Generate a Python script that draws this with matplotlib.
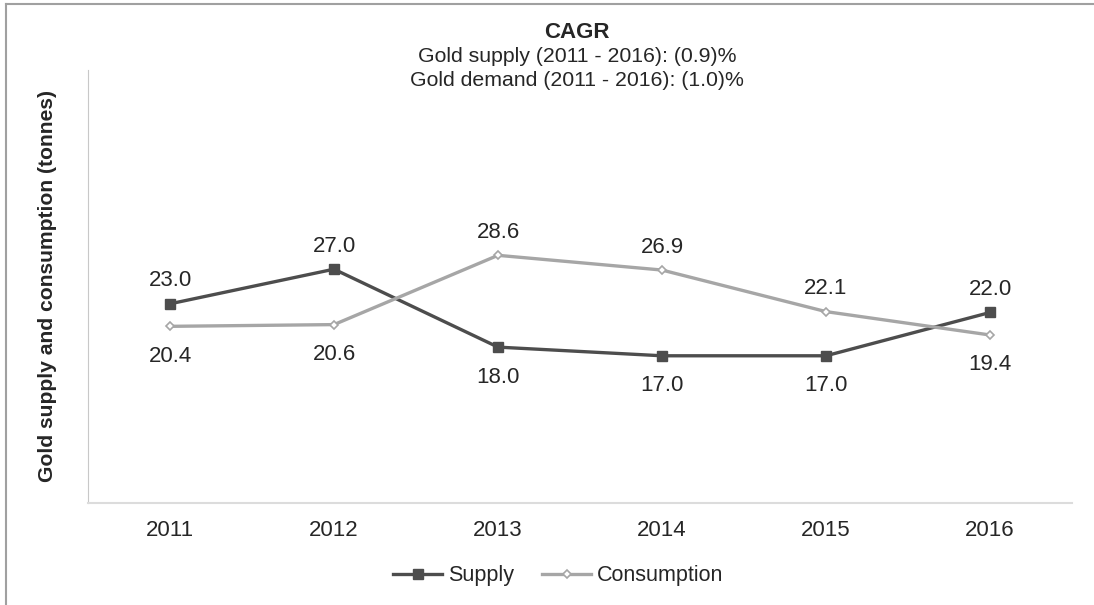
import numpy as np
import matplotlib.pyplot as plt
from matplotlib.lines import Line2D

plt.rcParams['font.family'] = ['Liberation Sans', 'DejaVu Sans']

years = ["2011", "2012", "2013", "2014", "2015", "2016"]
supply = [23.0, 27.0, 18.0, 17.0, 17.0, 22.0]
consumption = [20.4, 20.6, 28.6, 26.9, 22.1, 19.4]
# label placement: 1 = above point, -1 = below
supply_pos = [1, 1, -1, -1, -1, 1]
consumption_pos = [-1, -1, 1, 1, 1, -1]

dark = "#4d4d4d"
light = "#a6a6a6"
txt = "#262626"

fig = plt.figure(figsize=(10.94, 6.05), dpi=100)
ax = fig.add_axes([88 / 1094, 1 - 503 / 605, 984 / 1094, 433 / 605])

x = np.arange(len(years))
ax.plot(x, supply, color=dark, lw=2.4, marker="s", ms=7, label="Supply")
ax.plot(x, consumption, color=light, lw=2.4, marker="D", ms=4.5,
        mfc="white", mec=light, mew=1.2, label="Consumption")


def label_points(vals, pos):
    for xi, v, p in zip(x, vals, pos):
        off = 9 if p > 0 else -14
        ax.annotate(f"{v:.1f}", (xi, v), xytext=(0, off), textcoords="offset points",
                    ha="center", va="bottom" if p > 0 else "top", fontsize=16, color=txt)


label_points(supply, supply_pos)
label_points(consumption, consumption_pos)

ax.set_xlim(-0.5, 5.5)
ax.set_ylim(0, 50)
ax.set_xticks(x)
ax.set_xticklabels(years, fontsize=16, color=txt)
ax.tick_params(axis="x", length=0, pad=12)
ax.set_yticks([])
for s in ["top", "right"]:
    ax.spines[s].set_visible(False)
ax.spines["left"].set_color("#c8c8c8")
ax.spines["bottom"].set_color("#dcdcdc")
ax.spines["bottom"].set_linewidth(1.5)

ax.set_ylabel("Gold supply and consumption (tonnes)", fontsize=15.2,
              fontweight="bold", color=txt, labelpad=22)

fig.text(577 / 1094, 1 - 32 / 605, "CAGR", ha="center", va="center", fontsize=16,
         fontweight="bold", color=txt)
fig.text(577 / 1094, 1 - 57 / 605, "Gold supply (2011 - 2016): (0.9)%", ha="center",
         va="center", fontsize=15.3, color=txt)
fig.text(577 / 1094, 1 - 80 / 605, "Gold demand (2011 - 2016): (1.0)%", ha="center",
         va="center", fontsize=15.3, color=txt)

leg = fig.legend(loc="center", bbox_to_anchor=(558 / 1094, 1 - 576 / 605), ncol=2,
                 frameon=False, fontsize=15.5, handlelength=2.3, handletextpad=0.25,
                 columnspacing=1.3)
for t in leg.get_texts():
    t.set_color(txt)

# outer frame lines on the top and left edges
fig.add_artist(Line2D([6 / 1094, 1], [1 - 4 / 605, 1 - 4 / 605], color="#a0a0a0", lw=1.5))
fig.add_artist(Line2D([6 / 1094, 6 / 1094], [0, 1 - 4 / 605], color="#a0a0a0", lw=1.5))

fig.savefig("out.png", dpi=100)
